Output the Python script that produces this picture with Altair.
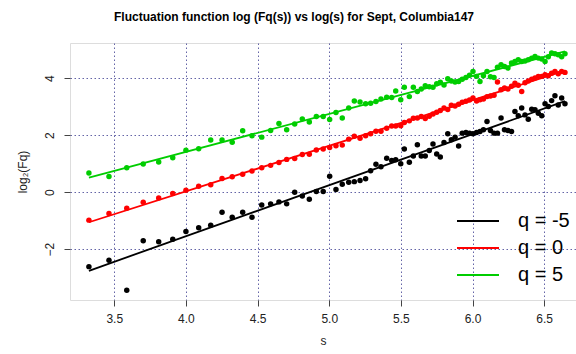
import altair as alt
import pandas as pd

# log(s) positions (shared by all three q series)
log_s = [3.323, 3.463, 3.587, 3.702, 3.810, 3.908, 4.000, 4.089, 4.173, 4.252,
         4.323, 4.396, 4.461, 4.529, 4.591, 4.649, 4.703, 4.759, 4.812, 4.861,
         4.910, 4.958, 5.003, 5.047, 5.091, 5.136, 5.175, 5.215, 5.254, 5.289,
         5.326, 5.361, 5.401, 5.436, 5.464, 5.499, 5.524, 5.559, 5.587, 5.615,
         5.642, 5.670, 5.698, 5.724, 5.750, 5.775, 5.801, 5.827, 5.852, 5.878,
         5.903, 5.928, 5.954, 5.979, 6.003, 6.028, 6.052, 6.076, 6.101, 6.125,
         6.150, 6.174, 6.199, 6.223, 6.247, 6.272, 6.296, 6.319, 6.343, 6.366,
         6.389, 6.413, 6.436, 6.459, 6.483, 6.506, 6.529, 6.552, 6.575, 6.598,
         6.622, 6.645]

fq_m5 = [-2.61, -2.39, -3.44, -1.70, -1.74, -1.65, -1.38, -1.25, -1.16, -0.70,
         -0.88, -0.70, -0.88, -0.45, -0.41, -0.34, -0.41, 0.00, -0.13, -0.25,
         0.02, 0.02, 0.56, 0.09, 0.28, 0.35, 0.37, 0.41, 0.47, 0.75,
         0.98, 0.89, 1.19, 1.11, 1.14, 1.00, 1.51, 1.05, 1.27, 1.66,
         1.27, 1.27, 1.46, 1.69, 1.34, 1.23, 1.74, 2.05, 1.84, 1.93,
         1.62, 2.07, 2.09, 2.07, 2.05, 2.09, 2.13, 2.19, 2.48, 2.16,
         2.07, 2.07, 2.60, 2.19, 2.16, 2.13, 2.83, 2.68, 2.95, 2.71,
         2.56, 2.91, 2.89, 2.77, 2.68, 3.10, 3.00, 3.21, 3.38, 3.06,
         3.30, 3.10]

fq_0 = [-0.98, -0.75, -0.56, -0.35, -0.20, -0.05, 0.07, 0.21, 0.26, 0.48,
        0.54, 0.63, 0.74, 0.86, 0.94, 1.04, 1.15, 1.18, 1.32, 1.33,
        1.48, 1.51, 1.57, 1.63, 1.65, 1.86, 1.96, 1.89, 1.98, 2.05,
        2.14, 2.14, 2.24, 2.32, 2.32, 2.33, 2.44, 2.50, 2.59, 2.60,
        2.65, 2.58, 2.66, 2.74, 2.80, 2.86, 2.95, 2.90, 3.05, 3.02,
        3.08, 3.15, 3.19, 3.23, 3.30, 3.20, 3.24, 3.27, 3.35, 3.37,
        3.40, 3.86, 3.59, 3.65, 3.62, 3.71, 3.82, 3.75, 3.53, 3.84,
        3.90, 3.96, 4.00, 4.06, 4.06, 4.12, 4.08, 4.17, 4.23, 4.15,
        4.23, 4.20]

fq_5 = [0.67, 0.55, 0.86, 0.99, 1.06, 1.21, 1.47, 1.52, 1.83, 1.83,
        1.75, 2.15, 1.98, 1.93, 2.16, 2.41, 2.19, 2.39, 2.57, 2.46,
        2.65, 2.65, 2.55, 2.79, 2.60, 2.95, 3.20, 3.16, 3.10, 3.12,
        3.18, 3.27, 3.33, 3.32, 3.55, 3.24, 3.68, 3.35, 3.68, 3.53,
        3.62, 3.73, 3.70, 3.68, 3.80, 3.85, 3.76, 3.98, 3.90, 3.86,
        3.88, 3.96, 4.02, 4.10, 4.23, 4.06, 3.88, 4.08, 4.23, 4.05,
        4.02, 4.38, 4.47, 4.41, 4.35, 4.53, 4.58, 4.64, 4.58, 4.60,
        4.64, 4.70, 4.76, 4.70, 4.67, 4.58, 4.75, 4.88, 4.85, 4.82,
        4.75, 4.85]

series_names = ["q = -5", "q = 0", "q = 5"]
series_colors = ["#000000", "#FF0000", "#00CD00"]
x_ticks = [3.5, 4.0, 4.5, 5.0, 5.5, 6.0, 6.5]
y_ticks = [-2, 0, 2, 4]

rows = []
for name, vals in zip(series_names, [fq_m5, fq_0, fq_5]):
    for xv, yv in zip(log_s, vals):
        rows.append({"x": xv, "y": yv, "q": name})
df = pd.DataFrame(rows)

FONT = "Liberation Sans"
grid_kw = dict(grid=True, gridColor="#30308a", gridOpacity=0.75, gridDash=[1.5, 2.5],
               gridWidth=1, domain=False, ticks=True, tickColor="#444", tickSize=6,
               labelFont=FONT, labelFontSize=12, labelColor="#222",
               titleFont=FONT, titleFontSize=12, titleColor="#222", titleFontWeight="normal")

xenc = alt.X("x:Q", scale=alt.Scale(domain=[3.191, 6.722], nice=False, zero=False),
             axis=alt.Axis(values=x_ticks, format=".1f", title="s", labelPadding=7,
                           titlePadding=11, **grid_kw))
yenc = alt.Y("y:Q", scale=alt.Scale(domain=[-3.78, 5.23], nice=False, zero=False),
             axis=alt.Axis(values=y_ticks, title="log₂(Fq)", labelAngle=270,
                           labelAlign="center", labelBaseline="bottom", labelPadding=8,
                           titlePadding=14, **grid_kw))

legend = alt.Legend(orient="none", legendX=398, legendY=168, title=None,
                    symbolType="M-3,0H3", symbolSize=196, symbolStrokeWidth=2,
                    symbolFillColor="transparent",
                    labelFont=FONT, labelFontSize=20, labelColor="#000",
                    labelOffset=30, rowPadding=7, padding=0)

cscale = alt.Scale(domain=series_names, range=series_colors)
cenc = alt.Color("q:N", scale=cscale, legend=legend)

points = alt.Chart(df).mark_circle(size=30, opacity=1).encode(
    x=xenc, y=yenc, color=cenc)

lines = alt.Chart(df).transform_regression("x", "y", groupby=["q"]).mark_line(
    strokeWidth=1.8).encode(x=xenc, y=yenc, color=cenc)

chart = alt.layer(points, lines).properties(
    width=506, height=257,
    autosize=alt.AutoSizeParams(type="none"),
    padding={"left": 70, "top": 43, "right": 0, "bottom": 54},
    title=alt.TitleParams("Fluctuation function log (Fq(s)) vs log(s) for Sept, Columbia147",
                          font=FONT, fontSize=12, fontWeight="bold", color="#000",
                          dx=-29, offset=19),
).configure_view(stroke="#707070", strokeWidth=1.5).configure(background="white")

chart.save("out.html", embed_options={"renderer": "svg", "actions": False})
